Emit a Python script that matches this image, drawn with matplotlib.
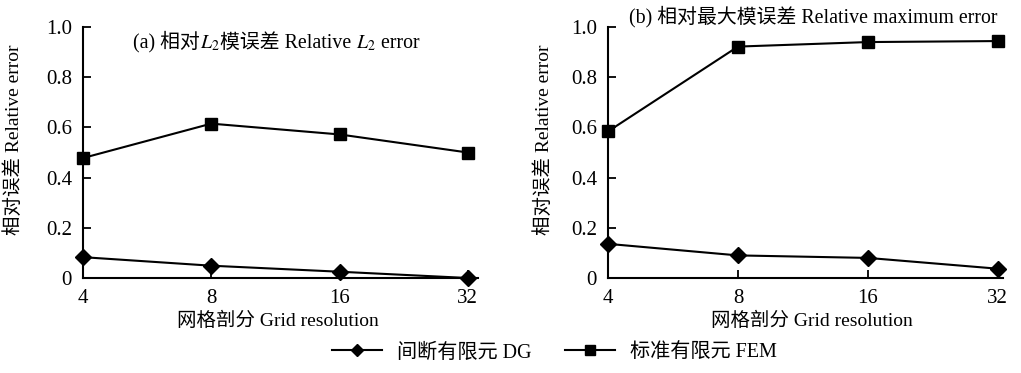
import matplotlib
matplotlib.use("Agg")
import matplotlib.pyplot as plt
from matplotlib.lines import Line2D
from matplotlib.offsetbox import TextArea, HPacker, AnnotationBbox

plt.rcParams['font.family'] = ['Liberation Serif', 'Noto Sans CJK SC']
plt.rcParams['mathtext.fontset'] = 'stix'

# data
grid = ["4", "8", "16", "32"]
l2_dg = [0.083, 0.049, 0.025, 0.0]
l2_fem = [0.478, 0.615, 0.572, 0.500]
max_dg = [0.136, 0.090, 0.080, 0.037]
max_fem = [0.584, 0.922, 0.940, 0.944]
yticks = [0, 0.2, 0.4, 0.6, 0.8, 1.0]
ytick_labels = ["0", "0.2", "0.4", "0.6", "0.8", "1.0"]

fig = plt.figure(figsize=(10.21, 3.73), dpi=100)
ax1 = fig.add_axes([0.0813, 0.2547, 0.3869, 0.6729])
ax2 = fig.add_axes([0.5955, 0.2547, 0.3869, 0.6729])

fs = 14


def style(ax, xmax):
    x = range(len(grid))
    ax.set_xlim(0, xmax)
    ax.set_ylim(0, 1.0)
    ax.set_xticks(list(x))
    ax.set_xticklabels(grid, fontsize=15)
    ax.set_yticks(yticks)
    ax.set_yticklabels(ytick_labels, fontsize=15)
    ax.tick_params(direction='in', length=6, width=1.3, pad=8)
    for s in ['top', 'right']:
        ax.spines[s].set_visible(False)
    for s in ['left', 'bottom']:
        ax.spines[s].set_linewidth(1.5)
    ax.set_xlabel("网格剖分 Grid resolution", fontsize=fs)
    ax.set_ylabel("相对误差 Relative error", fontsize=fs)


style(ax1, 3.08)
style(ax2, 3.04)
ax1.xaxis.set_label_coords(0.494, -0.135)
ax1.yaxis.set_label_coords(-0.152, 0.55)
ax2.xaxis.set_label_coords(0.516, -0.135)
ax2.yaxis.set_label_coords(-0.139, 0.55)

x = list(range(len(grid)))
for ax, dg, fem in [(ax1, l2_dg, l2_fem), (ax2, max_dg, max_fem)]:
    ax.plot(x, dg, color='black', lw=1.5, marker='D', markersize=8,
            clip_on=False, zorder=3)
    ax.plot(x, fem, color='black', lw=1.5, marker='s', markersize=8,
            clip_on=False, zorder=3)

# title of panel (a) with italic L_2, built from pieces
tp = dict(fontsize=14.3, family=['Liberation Serif', 'Noto Sans CJK SC'])
parts = [TextArea("(a) 相对", textprops=tp),
         TextArea("$L_2$", textprops=tp),
         TextArea("模误差 Relative ", textprops=tp),
         TextArea("$L_2$", textprops=tp),
         TextArea(" error", textprops=tp)]
box = HPacker(children=parts, pad=0, sep=0, align="baseline")
ab = AnnotationBbox(box, (0.49, 0.94), xycoords='axes fraction',
                    frameon=False, box_alignment=(0.5, 0.5))
ax1.add_artist(ab)

ax2.text(0.52, 1.04, "(b) 相对最大模误差 Relative maximum error",
         transform=ax2.transAxes, ha='center', va='center', fontsize=14.3)

handles = [Line2D([], [], color='black', lw=1.5, marker='D', markersize=6.5),
           Line2D([], [], color='black', lw=1.5, marker='s', markersize=6.5)]
fig.legend(handles, ["间断有限元 DG", "标准有限元 FEM"], loc='center',
           bbox_to_anchor=(0.543, 0.054), ncol=2, frameon=False,
           fontsize=14.5, handlelength=2.5, handletextpad=0.75,
           columnspacing=1.65)

fig.savefig("out.png", dpi=100)
